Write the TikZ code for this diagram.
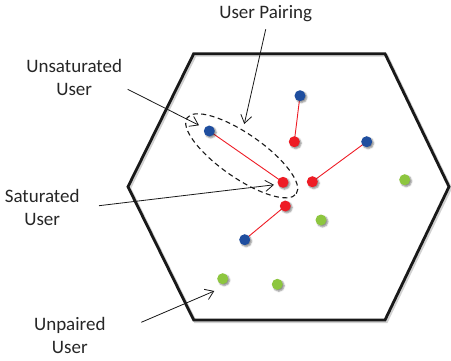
\documentclass[tikz,border=0pt]{standalone}
\usepackage{fontspec}
\setmainfont{Carlito}
\usetikzlibrary{arrows.meta,shapes.geometric,shadows.blur}
\definecolor{ublue}{HTML}{1F4E9F}
\definecolor{ured}{HTML}{EE1C25}
\definecolor{ugreen}{HTML}{8DC63F}
\definecolor{textgray}{HTML}{262626}
\begin{document}
\begin{tikzpicture}[x=1pt,y=-1pt,
  user/.style={circle,inner sep=0pt,minimum size=11pt,
    blur shadow={shadow xshift=1.5pt,shadow yshift=-1.5pt,shadow blur radius=1.5pt,shadow opacity=45}},
  unsat/.style={user,fill=ublue},
  sat/.style={user,fill=ured},
  unpaired/.style={user,fill=ugreen},
  pair/.style={draw=ured,line width=0.9pt},
  callout/.style={draw=black!90,line width=0.8pt,-{Straight Barb[length=8pt,width=11pt,line width=0.8pt]}},
  lbl/.style={font=\fontsize{19}{23.5}\selectfont,align=center,text=textgray,inner sep=0pt}]
\useasboundingbox (0,0) rectangle (451,360);

% cell boundary with a soft shadow
\draw[black!30,line width=3pt,line join=miter,opacity=0.6,shift={(1.5pt,-1.5pt)}]
  (193.7,53.7) -- (385,53.7) -- (449,186.7) -- (385,320) -- (193.7,320) -- (128,186.7) -- cycle;
\draw[black!90,line width=2.8pt,line join=miter]
  (193.7,53.7) -- (385,53.7) -- (449,186.7) -- (385,320) -- (193.7,320) -- (128,186.7) -- cycle;

% pairing links
\coordinate (b1) at (300,95.7);
\coordinate (b2) at (209.3,131);
\coordinate (b3) at (366.7,141.7);
\coordinate (b4) at (244.7,239.7);
\coordinate (r1) at (294.3,141.7);
\coordinate (r2) at (283,182.3);
\coordinate (r3) at (312.3,181.7);
\coordinate (r4) at (285.3,206);
\draw[pair] (b1) -- (r1);
\draw[pair] (b2) -- (r2);
\draw[pair] (r3) -- (b3);
\draw[pair] (r4) -- (b4);

% users
\node[unsat] (ub1) at (b1) {};
\node[unsat] (ub2) at (b2) {};
\node[unsat] (ub3) at (b3) {};
\node[unsat] (ub4) at (b4) {};
\node[sat] (ur1) at (r1) {};
\node[sat] (ur2) at (r2) {};
\node[sat] (ur3) at (r3) {};
\node[sat] (ur4) at (r4) {};
\node[unpaired] (ug1) at (404.7,179.7) {};
\node[unpaired] (ug2) at (321,220) {};
\node[unpaired] (ug3) at (222.7,278.7) {};
\node[unpaired] (ug4) at (277.3,284.3) {};

% user pair outline
\node[draw=black!90,dashed,dash pattern=on 5pt off 3.5pt,line width=1.1pt,ellipse,
  inner sep=0pt,minimum width=133pt,minimum height=44pt,rotate=-34.8]
  (pairing) at (241.7,155.8) {};

% labels
\node[lbl] (tpair) at (265.7,13.5) {User Pairing};
\node[lbl] (tunsat) at (74.2,77.5) {Unsaturated\\User};
\node[lbl] (tsat) at (42.2,207.5) {Saturated\\User};
\node[lbl] (tunp) at (69.8,335.5) {Unpaired\\User};

% callout arrows
\coordinate (apair0) at (265.7,29.3);
\coordinate (apair1) at (244.3,124);
\coordinate (aunsat0) at (127.7,89.3);
\coordinate (aunsat1) at (199,125.3);
\coordinate (asat0) at (99,205.7);
\coordinate (asat1) at (274,184.8);
\coordinate (aunp0) at (141.3,322.3);
\coordinate (aunp1) at (214.3,291);
\draw[callout] (apair0) -- (apair1);
\draw[callout] (aunsat0) -- (aunsat1);
\draw[callout] (asat0) -- (asat1);
\draw[callout] (aunp0) -- (aunp1);
\end{tikzpicture}
\end{document}
